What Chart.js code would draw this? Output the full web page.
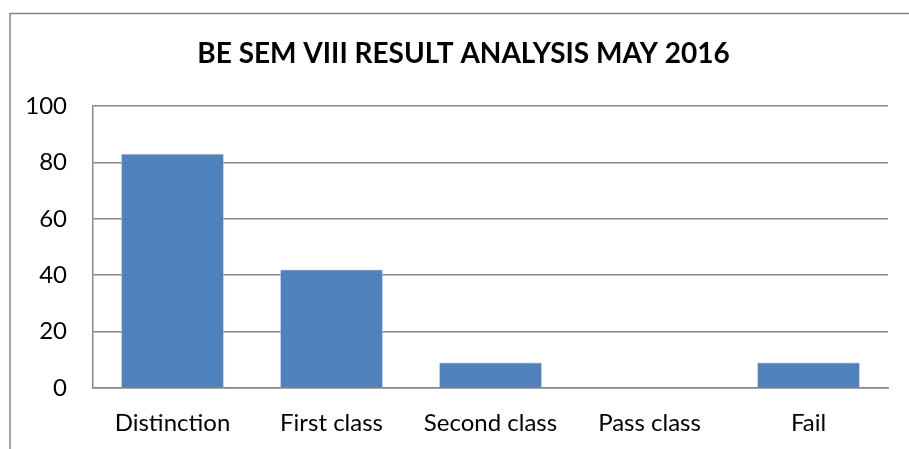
<!DOCTYPE html>
<html>
<head>
<meta charset="utf-8">
<script src="https://cdn.jsdelivr.net/npm/chart.js@4"></script>
<style>
  html, body { margin: 0; padding: 0; background: #fff; }
  #wrap { width: 909px; height: 449px; }
</style>
</head>
<body>
<div id="wrap"><canvas id="chart"></canvas></div>
<script>
// ================= DATA =================
const categories = ["Distinction", "First class", "Second class", "Pass class", "Fail"];
const students = [83, 42, 9, 0, 9];
const yTicks = [0, 20, 40, 60, 80, 100];

const GRID = "#868686";

// ================= OUTER FRAME =================
const frame = {
  id: "frame",
  beforeDraw(chart) {
    const c = chart.ctx;
    c.save();
    c.fillStyle = "#fff";
    c.fillRect(0, 0, chart.width, chart.height);
    c.strokeStyle = GRID;
    c.lineWidth = 1.5;
    c.strokeRect(10, 13.5, chart.width + 20, chart.height + 20);
    c.restore();
  },
  // title in the original sits a bit right of the box centre
  afterLayout(chart) {
    if (chart.titleBlock) chart.titleBlock.left += 29;
  }
};

// ================= CHART =================
const ctx = document.getElementById("chart").getContext("2d");

new Chart(ctx, {
  type: "bar",
  data: {
    labels: categories,
    datasets: [{
      label: "Students",
      data: students,
      backgroundColor: "#4F81BD",
      borderColor: "#A9C1E0",
      borderWidth: 0.6,
      categoryPercentage: 1,
      barPercentage: 0.645
    }]
  },
  options: {
    responsive: true,
    maintainAspectRatio: false,
    animation: false,
    layout: { padding: { left: 10, right: 21, top: 0, bottom: 0 } },
    plugins: {
      legend: { display: false },
      tooltip: { enabled: false },
      title: {
        display: true,
        text: "BE SEM VIII RESULT ANALYSIS MAY 2016",
        color: "#000",
        font: { family: "Lato", size: 28, weight: "bold", lineHeight: 1.2 },
        padding: { top: 36.8, bottom: 35.6 }
      }
    },
    scales: {
      x: {
        grid: { display: false, drawTicks: false },
        border: { display: true, color: GRID, width: 1.5 },
        ticks: {
          color: "#000",
          font: { family: "Lato", size: 24 },
          padding: 21,
          maxRotation: 0
        },
        afterFit(scale) { scale.height = 61; }
      },
      y: {
        min: 0,
        max: 100,
        afterBuildTicks(scale) { scale.ticks = yTicks.map(v => ({ value: v })); },
        grid: { color: GRID, lineWidth: 1.5, drawTicks: false },
        border: { display: true, color: GRID, width: 1.5 },
        ticks: {
          color: "#000",
          font: { family: "Lato", size: 24 },
          padding: 26
        },
        afterFit(scale) { scale.width = 83; }
      }
    }
  },
  plugins: [frame]
});
</script>
</body>
</html>
